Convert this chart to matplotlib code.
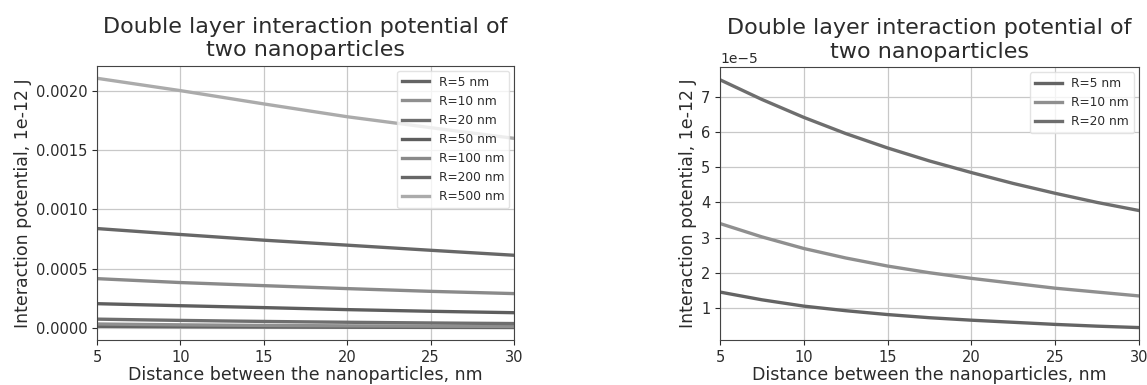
import numpy as np
import matplotlib
matplotlib.use("Agg")
import matplotlib.pyplot as plt

# Distance between the nanoparticles, nm
distance_fine = [5, 7.5, 10, 12.5, 15, 17.5, 20, 22.5, 25, 27.5, 30]
distance = [5, 10, 15, 20, 25, 30]

# Interaction potential, 1e-12 J
u_r5 = [1.45e-5, 1.23e-5, 1.05e-5, 0.92e-5, 0.81e-5, 0.72e-5, 0.65e-5, 0.59e-5, 0.53e-5, 0.48e-5, 0.44e-5]
u_r10 = [3.40e-5, 3.02e-5, 2.69e-5, 2.42e-5, 2.19e-5, 2.00e-5, 1.84e-5, 1.70e-5, 1.56e-5, 1.45e-5, 1.34e-5]
u_r20 = [7.49e-5, 6.93e-5, 6.42e-5, 5.96e-5, 5.55e-5, 5.18e-5, 4.85e-5, 4.54e-5, 4.26e-5, 4.00e-5, 3.77e-5]
u_r50 = [0.000205, 0.000188, 0.000172, 0.000155, 0.000141, 0.000129]
u_r100 = [0.000416, 0.000383, 0.000357, 0.000332, 0.000309, 0.000290]
u_r200 = [0.000838, 0.000788, 0.000740, 0.000698, 0.000655, 0.000613]
u_r500 = [0.002104, 0.002000, 0.001888, 0.001780, 0.001688, 0.001598]

labels_all = ["R=5 nm", "R=10 nm", "R=20 nm", "R=50 nm", "R=100 nm", "R=200 nm", "R=500 nm"]
series_all = [u_r5, u_r10, u_r20, u_r50, u_r100, u_r200, u_r500]
x_all = [distance_fine] * 3 + [distance] * 4

# tab10 colours seen in grey
greys = ["#646464", "#8f8f8f", "#6e6e6e", "#5e5e5e", "#8a8a8a", "#676767", "#ababab"]

text_col = "#2b2b2b"
plt.rcParams.update({
    "text.color": text_col,
    "axes.labelcolor": text_col,
    "xtick.color": text_col,
    "ytick.color": text_col,
    "axes.edgecolor": "#444444",
})

fig = plt.figure(figsize=(11.47, 3.85), dpi=100)
ax1 = fig.add_axes([0.0846, 0.117, 0.3636, 0.712])
ax2 = fig.add_axes([0.6277, 0.117, 0.3653, 0.708])

title = "Double layer interaction potential of\ntwo nanoparticles"

for ax, n in [(ax1, 7), (ax2, 3)]:
    for i in range(n):
        ax.plot(np.array(x_all[i]), series_all[i], color=greys[i], lw=2.4, label=labels_all[i])
    ax.set_xlim(5, 30)
    ax.grid(True, color="#c8c8c8", lw=0.9)
    # fixed y so the offset text does not push the title up
    ax.set_title(title, fontsize=16, y=1.0, pad=7)
    ax.set_xlabel("Distance between the nanoparticles, nm", fontsize=12.5, labelpad=1)
    ax.set_ylabel("Interaction potential, 1e-12 J", fontsize=12.5, labelpad=3)
    ax.tick_params(labelsize=10.5)
    ax.legend(loc="upper right", fontsize=8.8, handlelength=2.2, labelspacing=0.5,
              framealpha=0.8, edgecolor="#dddddd", borderaxespad=0.4)

ax1.set_yticks([0.0, 0.0005, 0.0010, 0.0015, 0.0020])

fig.savefig("out.png", dpi=100)
